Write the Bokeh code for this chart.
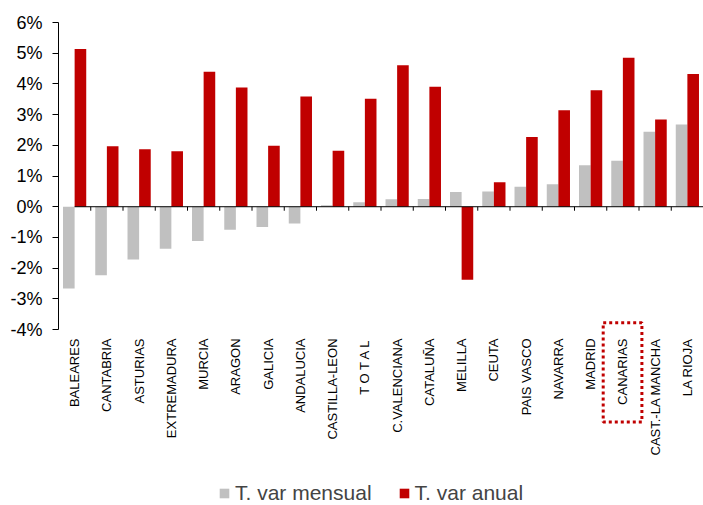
import math
from bokeh.plotting import figure
from bokeh.models import (ColumnDataSource, FactorRange, Range1d, FixedTicker,
                          PrintfTickFormatter, Legend, LegendItem, BoxAnnotation)
from bokeh.core.properties import value
from bokeh.transform import dodge
from bokeh.embed import file_html
from bokeh.resources import INLINE

regions = ["BALEARES", "CANTABRIA", "ASTURIAS", "EXTREMADURA", "MURCIA", "ARAGON",
           "GALICIA", "ANDALUCIA", "CASTILLA-LEON", "T O T A L", "C.VALENCIANA",
           "CATALUÑA", "MELILLA", "CEUTA", "PAIS VASCO", "NAVARRA", "MADRID",
           "CANARIAS", "CAST.-LA MANCHA", "LA RIOJA"]
mensual = [-2.66, -2.23, -1.72, -1.37, -1.12, -0.75, -0.66, -0.55, 0.05, 0.15, 0.24,
           0.25, 0.48, 0.50, 0.65, 0.73, 1.35, 1.50, 2.44, 2.68]
anual = [5.14, 1.97, 1.87, 1.81, 4.40, 3.88, 1.99, 3.59, 1.82, 3.52, 4.61,
         3.91, -2.38, 0.80, 2.27, 3.14, 3.79, 4.85, 2.84, 4.32]
y_ticks = [-4, -3, -2, -1, 0, 1, 2, 3, 4, 5, 6]
highlight = "CANARIAS"

GRAY = "#C0C0C0"
RED = "#C00000"
FONT = "Liberation Sans"

src = ColumnDataSource(dict(region=regions, mensual=mensual, anual=anual))

# frame extends below the value axis so that category labels, highlight box and
# legend can live inside it
p = figure(x_range=FactorRange(factors=regions, range_padding=0, factor_padding=0),
           y_range=Range1d(-9.73, y_ticks[-1]),
           frame_width=645, frame_height=483,
           min_border_left=58, min_border_right=0, min_border_top=22,
           min_border_bottom=0,
           output_backend="svg", toolbar_location=None)

r1 = p.vbar(x=dodge("region", -0.18, range=p.x_range), top="mensual", width=0.36,
            source=src, fill_color=GRAY, line_color=None)
r2 = p.vbar(x=dodge("region", 0.18, range=p.x_range), top="anual", width=0.36,
            source=src, fill_color=RED, line_color=None)

# zero line and category ticks on it
p.segment(x0=[regions[0]], x1=[(regions[-1], 0.5)], y0=[0], y1=[0],
          line_color="black", line_width=1)
tick_src = ColumnDataSource(dict(x=[(r, -0.5) for r in regions[1:]],
                                 y0=[0] * (len(regions) - 1),
                                 y1=[-0.13] * (len(regions) - 1)))
p.segment(x0="x", x1="x", y0="y0", y1="y1", source=tick_src, line_color="black", line_width=1)

# category labels (vertical, reading upward)
p.text(x=regions, y=[-4.29] * len(regions), text=regions, angle=math.pi / 2,
       text_align="right", text_baseline="middle",
       text_font=value(FONT), text_font_size="13px", text_color="black")

# y axis
p.yaxis.bounds = (y_ticks[0], y_ticks[-1])
p.yaxis.ticker = FixedTicker(ticks=y_ticks)
p.yaxis.formatter = PrintfTickFormatter(format="%d%%")
p.yaxis.axis_line_color = "black"
p.yaxis.major_tick_line_color = "black"
p.yaxis.major_tick_out = 6
p.yaxis.major_tick_in = 0
p.yaxis.minor_tick_line_color = None
p.yaxis.major_label_standoff = 10
p.yaxis.major_label_text_font = FONT
p.yaxis.major_label_text_font_size = "18px"
p.yaxis.major_label_text_color = "black"

p.xaxis.visible = False

p.xgrid.grid_line_color = None
p.ygrid.grid_line_color = None
p.outline_line_color = None

# highlight box around CANARIAS label
hi = regions.index(highlight) + 0.5
p.add_layout(BoxAnnotation(left=hi - 0.61, right=hi + 0.59, top=-3.78, bottom=-7.01,
                           fill_alpha=0, line_color=RED, line_width=3, line_dash="3 3",
                           line_alpha=1))

legend = Legend(items=[LegendItem(label="T. var mensual", renderers=[r1]),
                       LegendItem(label="T. var anual", renderers=[r2])],
                orientation="horizontal", location=(160, 0),
                padding=0, margin=0, spacing=26, label_standoff=5,
                glyph_width=12, glyph_height=12, label_height=12,
                border_line_color=None, background_fill_alpha=0,
                label_text_font=FONT, label_text_font_size="21px")
p.add_layout(legend, "center")

open("out.html", "w").write(file_html(p, INLINE))
